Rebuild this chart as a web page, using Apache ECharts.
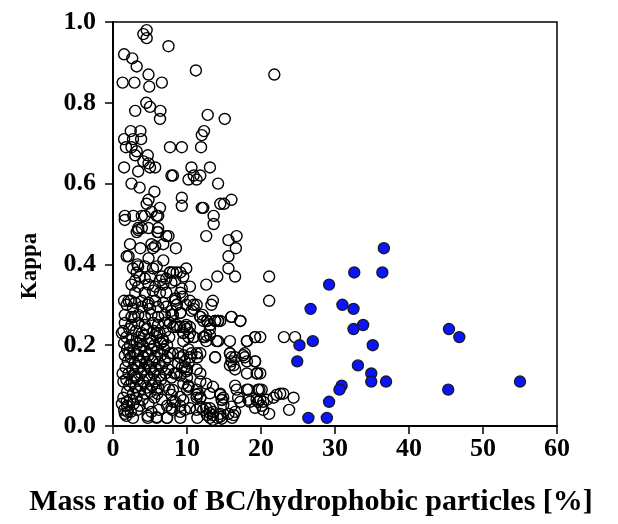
<!DOCTYPE html>
<html>
<head>
<meta charset="utf-8">
<script src="https://cdn.jsdelivr.net/npm/echarts@6/dist/echarts.min.js"></script>
<style>html,body{margin:0;padding:0;background:#fff;}#c{width:618px;height:524px;}</style>
</head>
<body>
<div id="c"></div>
<script>
// x tick labels / y tick labels
const xTicks = [0, 10, 20, 30, 40, 50, 60];
const yTicks = [0.0, 0.2, 0.4, 0.6, 0.8, 1.0];
const xTitle = 'Mass ratio of BC/hydrophobic particles [%]';
const yTitle = 'Kappa';

// Blue (filled) points: [mass ratio %, kappa]
const bluePoints = [
  [36.6,0.44],[32.6,0.38],[36.4,0.38],[29.2,0.35],[26.7,0.29],[31.0,0.30],[32.5,0.29],
  [32.5,0.24],[33.8,0.25],[45.4,0.24],[46.8,0.22],[25.2,0.20],[27.0,0.21],[35.1,0.20],
  [24.9,0.16],[33.1,0.15],[34.9,0.13],[34.9,0.11],[36.9,0.11],[55.0,0.11],[45.3,0.09],
  [30.9,0.10],[30.6,0.09],[29.2,0.06],[26.4,0.02],[28.9,0.02]
];

// Open points: upper sparse region
const openUpper = [
  [4.55,0.98],[4.1,0.97],[4.55,0.96],[7.5,0.94],[1.5,0.92],[2.6,0.91],[3.2,0.89],[4.8,0.87],
  [11.2,0.88],[21.8,0.87],[1.3,0.85],[2.9,0.85],[4.9,0.84],[6.6,0.85],[4.5,0.80],[5.0,0.79],
  [3.0,0.78],[6.4,0.78],[6.35,0.76],[12.8,0.77],[15.1,0.76],[2.4,0.73],[3.7,0.73],[1.5,0.71],
  [2.7,0.71],[3.8,0.71],[1.75,0.69],[2.5,0.69],[12.3,0.73],[12.0,0.72],[11.9,0.69],[7.7,0.69],
  [9.3,0.69],[3.0,0.67],[4.7,0.67],[3.2,0.68],[4.1,0.655],[4.8,0.65],[1.5,0.64],[3.4,0.63],
  [5.0,0.64],[5.7,0.64],[7.9,0.62],[8.1,0.62],[10.2,0.61],[10.9,0.62],[11.3,0.61],[10.6,0.64],
  [2.5,0.60],[3.6,0.59],[5.6,0.58],[4.8,0.56],[4.55,0.55],[6.35,0.54],[9.3,0.565],[9.3,0.545],
  [12.0,0.54],[5.2,0.53],[5.9,0.52],[1.6,0.52],[2.75,0.52],[1.6,0.51],[3.9,0.52],[3.4,0.49],
  [6.1,0.49],[13.1,0.64],[11.8,0.62],[14.2,0.60],[12.2,0.54],[14.5,0.55],[15.0,0.55],[16.0,0.56],
  [13.6,0.52],[13.6,0.50],[4.3,0.52],[6.1,0.52]
];

// Open points: middle region (kappa 0.25 - 0.50)
const openMiddle = [
  [3.2,0.48],[3.9,0.49],[6.1,0.48],[7.5,0.47],[12.6,0.47],[15.6,0.46],[16.7,0.47],[16.6,0.44],
  [15.6,0.42],[15.6,0.39],[16.5,0.37],[2.3,0.45],[3.7,0.44],[5.2,0.45],[5.4,0.44],[8.5,0.44],
  [2.1,0.42],[3.3,0.40],[6.8,0.41],[9.9,0.39],[14.1,0.37],[21.1,0.37],[21.1,0.31],[2.7,0.39],
  [5.4,0.39],[8.1,0.38],[8.6,0.38],[9.1,0.38],[6.6,0.37],[5.0,0.37],[12.6,0.35],[10.4,0.345],
  [7.7,0.38],[9.5,0.37],[9.1,0.33],[9.4,0.32],[8.4,0.31],[9.9,0.30],[13.5,0.31],[13.3,0.30],
  [10.9,0.30],[10.9,0.29],[16.0,0.27],[17.2,0.26],[12.1,0.275],[12.2,0.26],[13.8,0.26],[14.5,0.26],
  [13.1,0.25],[8.1,0.275],[9.9,0.25],[8.6,0.25],[3.4,0.485],[4.8,0.49],[6.0,0.48],[7.2,0.47],
  [5.7,0.445],[6.8,0.45],[1.85,0.42],[4.8,0.415],[3.4,0.395],[3.2,0.38],[4.3,0.395],[5.9,0.395],
  [7.7,0.38],[7.2,0.365],[6.35,0.36],[3.0,0.36],[3.6,0.37],[4.3,0.365],[7.9,0.355],[8.4,0.36],
  [9.3,0.34],[10.4,0.31],[11.3,0.30],[10.6,0.285],[11.8,0.27],[8.4,0.315],[8.6,0.30],[7.9,0.285],
  [9.1,0.28],[12.7,0.26],[14.2,0.26]
];

// Open points: dense core (kappa 0.0 - 0.36, ratio 1 - 8 %)
const openCore = [
  [2.5,0.35],[3.4,0.345],[4.8,0.35],[5.7,0.345],[6.8,0.35],
  [3.0,0.33],[4.3,0.33],[5.4,0.335],[6.35,0.33],[7.2,0.33],
  [2.1,0.31],[3.0,0.305],[3.9,0.31],[4.8,0.305],[5.7,0.31],[6.8,0.305],
  [1.85,0.30],[2.7,0.29],[3.9,0.295],[5.0,0.29],[6.1,0.295],[7.2,0.295],
  [1.6,0.275],[2.5,0.27],[3.4,0.275],[4.3,0.27],[5.2,0.275],[6.1,0.27],[7.0,0.275],[7.9,0.275],
  [1.6,0.255],[2.5,0.25],[3.4,0.255],[4.3,0.25],[5.4,0.255],[6.1,0.25],[7.0,0.255],
  [1.4,0.235],[2.2,0.24],[3.1,0.235],[3.9,0.23],[4.6,0.24],[5.5,0.235],[6.3,0.23],[7.1,0.235],
  [1.8,0.22],[2.6,0.215],[3.5,0.22],[4.2,0.225],[5.0,0.215],[5.9,0.22],[6.7,0.215],[7.6,0.22],
  [1.5,0.205],[2.3,0.2],[3.2,0.205],[4.0,0.2],[4.9,0.205],[5.6,0.2],[6.5,0.205],[7.3,0.2],
  [1.9,0.19],[2.8,0.185],[3.6,0.19],[4.4,0.185],[5.2,0.19],[6.0,0.185],[6.9,0.19],
  [1.6,0.175],[2.4,0.17],[3.3,0.175],[4.1,0.17],[4.8,0.175],[5.7,0.17],[6.5,0.175],[7.4,0.17],
  [2.0,0.16],[2.9,0.155],[3.7,0.16],[4.5,0.155],[5.3,0.16],[6.2,0.155],[7.0,0.16],
  [1.7,0.145],[2.6,0.14],[3.4,0.145],[4.2,0.14],[5.0,0.145],[5.8,0.14],[6.6,0.145],[7.5,0.14],
  [2.1,0.13],[2.9,0.125],[3.8,0.13],[4.6,0.125],[5.5,0.13],[6.3,0.125],[7.1,0.13],
  [1.8,0.115],[2.5,0.11],[3.3,0.115],[4.1,0.11],[4.9,0.115],[5.7,0.11],[6.5,0.115],
  [2.2,0.1],[3.0,0.095],[3.7,0.1],[4.6,0.095],[5.3,0.1],[6.1,0.095],[7.0,0.1],
  [1.9,0.085],[2.7,0.08],[3.5,0.085],[4.3,0.08],[5.1,0.085],[6.0,0.08],
  [1.4,0.07],[2.3,0.065],[3.2,0.07],[4.0,0.065],[5.6,0.07],[6.6,0.065],
  [1.2,0.055],[1.9,0.05],[2.8,0.055],[3.6,0.05],[4.8,0.055],[7.3,0.05],
  [1.5,0.04],[2.4,0.035],[3.3,0.04],[5.2,0.035],[6.2,0.04],[8.0,0.04],
  [1.8,0.025],[2.7,0.02],[4.7,0.025],[5.9,0.02],[7.3,0.02],
  [2.9,0.27],[3.7,0.21],[4.5,0.24],[5.1,0.14],[2.2,0.18],[3.0,0.12],[4.7,0.30],[6.0,0.23],
  [3.5,0.16],[2.4,0.31],[5.9,0.09],[1.3,0.13],[1.2,0.23],[1.5,0.31],[1.4,0.11],[1.6,0.03],
  [1.85,0.06],[2.0,0.035],[6.8,0.21],[7.7,0.18],[7.9,0.12],[7.6,0.09]
];

// Open points: lower-right spread (ratio 7.5 - 24 %, kappa 0.0 - 0.25)
const openLower = [
  [14.2,0.21],[15.8,0.21],[18.1,0.21],[19.2,0.22],[12.4,0.22],[13.1,0.24],[13.1,0.225],
  [9.5,0.23],[10.2,0.22],[10.9,0.22],[10.0,0.24],[8.1,0.245],[9.1,0.245],[10.4,0.245],
  [11.4,0.17],[13.8,0.17],[15.8,0.18],[16.0,0.17],[16.5,0.17],[17.6,0.175],[17.8,0.17],[19.2,0.16],
  [15.8,0.15],[16.3,0.15],[18.1,0.13],[19.5,0.13],
  [8.1,0.18],[8.8,0.18],[9.5,0.175],[10.4,0.17],[9.7,0.16],[8.8,0.155],[9.7,0.145],[8.3,0.13],
  [9.1,0.125],[9.9,0.135],
  [10.2,0.10],[10.0,0.09],[11.3,0.09],[11.5,0.08],[11.3,0.07],[11.8,0.07],
  [14.5,0.08],[14.9,0.07],[14.7,0.065],
  [16.7,0.09],[16.9,0.07],[17.2,0.06],[18.3,0.09],[19.6,0.09],[18.5,0.06],[19.6,0.06],[19.2,0.045],[20.1,0.05],
  [7.9,0.077],[8.1,0.06],[9.1,0.05],[9.1,0.035],[9.7,0.04],[10.4,0.044],[11.3,0.04],[12.2,0.04],
  [13.1,0.044],[13.5,0.035],[14.5,0.03],[12.7,0.027],[13.1,0.02],[13.5,0.015],[14.5,0.023],[15.6,0.03],[16.3,0.027],
  [4.7,0.02],[5.9,0.022],[7.3,0.02],[9.1,0.02],[11.4,0.02],[14.1,0.02],[14.7,0.018],[16.1,0.02],
  [20.8,0.065],[19.9,0.065],[19.4,0.065],[18.3,0.065],[19.8,0.09],[18.1,0.09],[16.5,0.10],[22.1,0.077],
  [19.2,0.22],[18.1,0.21],[16.0,0.27],[17.2,0.26],
  [15.8,0.18],[16.0,0.16],[16.5,0.14],[17.8,0.18],[18.1,0.16],[19.2,0.16],[19.4,0.13],
  [11.8,0.27],[12.7,0.26],[13.8,0.26],[14.2,0.26],[14.0,0.21],[13.8,0.17],
  [8.4,0.315],[8.6,0.30],[9.1,0.28],[7.7,0.255],[8.6,0.245],[9.7,0.245],[9.5,0.23],[10.4,0.23],
  [10.9,0.22],[9.5,0.21],[10.2,0.19],[10.6,0.18],[9.1,0.17],[10.2,0.155],[10.0,0.14],[9.3,0.145],
  [8.6,0.13],[10.0,0.12],[9.5,0.105],[10.2,0.097],[8.1,0.089],[9.1,0.072],[8.4,0.06],[9.5,0.064],[7.9,0.044],
  [11.3,0.18],[11.8,0.18],[12.6,0.225],[12.6,0.21],[12.2,0.22],[11.3,0.14],[11.8,0.13],[11.8,0.11],
  [12.6,0.105],[13.5,0.097],[11.3,0.077],[11.8,0.069],[13.1,0.081],[14.5,0.077],[14.7,0.064],[14.9,0.052],
  [16.0,0.048],[16.5,0.035],[11.8,0.048],[12.6,0.044],[13.1,0.032],[13.5,0.027],
  [19.9,0.22],[19.9,0.13],[20.1,0.09],[20.3,0.06],[20.3,0.04],[21.7,0.07],[22.6,0.08],[23.0,0.08],
  [24.4,0.07],[23.8,0.04],[21.1,0.03],[23.1,0.22],[24.6,0.22]
];

const openPoints = openUpper.concat(openMiddle, openCore, openLower);

const serif = '"Liberation Serif", "Times New Roman", serif';
const chart = echarts.init(document.getElementById('c'), null, {renderer: 'canvas'});
chart.setOption({
  backgroundColor: '#fff',
  animation: false,
  grid: {left: 113, right: 61, top: 22, bottom: 98, show: true, borderColor: '#000', borderWidth: 1.5, backgroundColor: 'transparent'},
  graphic: [
    {type: 'text', x: 30, y: 266, rotation: Math.PI / 2,
      style: {text: yTitle, fontFamily: serif, fontWeight: 'bold', fontSize: 23, fill: '#000',
        align: 'center', verticalAlign: 'middle'}},
    {type: 'text', x: 311, y: 502,
      style: {text: xTitle, fontFamily: serif, fontWeight: 'bold', fontSize: 30, fill: '#000',
        align: 'center', verticalAlign: 'middle'}}
  ],
  xAxis: {
    type: 'value', min: xTicks[0], max: xTicks[xTicks.length - 1], interval: 10,
    axisLine: {show: true, onZero: false, lineStyle: {color: '#000', width: 2}},
    axisTick: {show: true, inside: false, length: 8, lineStyle: {color: '#000', width: 1.5}},
    axisLabel: {margin: 10, fontFamily: serif, fontWeight: 'bold', fontSize: 26, color: '#000'},
    splitLine: {show: false}
  },
  yAxis: {
    type: 'value', min: yTicks[0], max: yTicks[yTicks.length - 1], interval: 0.2,
    axisLine: {show: true, onZero: false, lineStyle: {color: '#000', width: 2}},
    axisTick: {show: true, inside: false, length: 8, lineStyle: {color: '#000', width: 1.5}},
    axisLabel: {margin: 17, fontFamily: serif, fontWeight: 'bold', fontSize: 26, color: '#000',
      formatter: v => v.toFixed(1)},
    splitLine: {show: false}
  },
  series: [
    {
      type: 'scatter', name: 'open', data: openPoints, symbol: 'circle', symbolSize: 11,
      itemStyle: {color: 'rgba(0,0,0,0)', borderColor: '#000', borderWidth: 1.4, opacity: 1},
      z: 2
    },
    {
      type: 'scatter', name: 'blue', data: bluePoints, symbol: 'circle', symbolSize: 11,
      itemStyle: {color: '#0a14ff', borderColor: '#1a1a2a', borderWidth: 1.4, opacity: 1},
      z: 3
    }
  ]
});
</script>
</body>
</html>
